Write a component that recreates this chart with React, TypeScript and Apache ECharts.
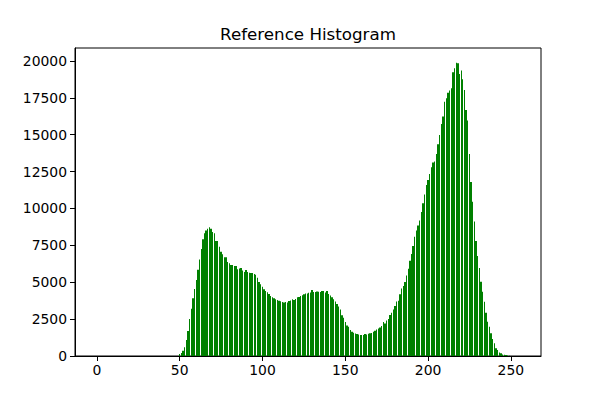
import React, { useEffect, useRef } from "react";
import * as echarts from "echarts";

const chartTitle = "Reference Histogram";
const xTicks = [0, 50, 100, 150, 200, 250];
const yTicks = [0, 2500, 5000, 7500, 10000, 12500, 15000, 17500, 20000];
const barHalfWidth = 0.4;

// counts for intensity bins 0..255
const counts = [
  0, 0, 0, 0, 0, 0, 0, 0, 0, 0,
  0, 0, 0, 0, 0, 0, 0, 0, 0, 0,
  0, 0, 0, 0, 0, 0, 0, 0, 0, 0,
  0, 0, 0, 0, 0, 0, 0, 0, 0, 0,
  0, 0, 0, 0, 0, 0, 0, 0, 0, 0,
  136, 200, 350, 600, 1085, 1700, 2510, 3200, 3910, 4550,
  5150, 5850, 6550, 7250, 7910, 8320, 8500, 8630, 8720, 8630,
  8410, 8320, 7800, 7800, 7410, 7070, 6890, 6690, 6690, 6370,
  6280, 6170, 6170, 6100, 6100, 5880, 5940, 5970, 5790, 5700,
  5830, 5700, 5650, 5630, 5630, 5560, 5510, 5300, 5020, 4860,
  4700, 4520, 4410, 4320, 4200, 4070, 3980, 3910, 3840, 3800,
  3750, 3710, 3660, 3620, 3660, 3620, 3730, 3760, 3840, 3800,
  3860, 3980, 4000, 4070, 4120, 4180, 4230, 4230, 4290, 4300,
  4470, 4340, 4340, 4380, 4360, 4340, 4410, 4410, 4300, 4410,
  4200, 4100, 3980, 3840, 3700, 3530, 3350, 3160, 2760, 2600,
  2300, 2060, 1990, 1760, 1650, 1580, 1530, 1490, 1450, 1420,
  1430, 1420, 1490, 1450, 1500, 1540, 1560, 1640, 1720, 1790,
  1860, 1940, 2030, 2300, 2210, 2400, 2510, 2780, 2940, 3150,
  3390, 3700, 3750, 4180, 4570, 4750, 5020, 5450, 5920, 6460,
  6920, 7460, 8090, 8500, 8850, 9180, 9760, 10350, 10940, 11590,
  11930, 12340, 12790, 13110, 13180, 13700, 14350, 14990, 15730, 16230,
  17240, 17470, 17850, 17990, 18150, 19230, 19500, 19885, 19840, 19120,
  19350, 18760, 18040, 16680, 15960, 13700, 11800, 10460, 9110, 7800,
  6780, 5970, 5040, 4360, 3680, 2940, 2330, 1990, 1540, 1150,
  860, 520, 410, 230, 180, 110, 90, 70, 40, 15,
  5, 0, 0, 0, 0, 0,
];

export default function App() {
  const ref = useRef<HTMLDivElement>(null);
  useEffect(() => {
    const chart = echarts.init(ref.current!, null, { renderer: "svg" });
    const ymax = Math.max(...counts) * 1.05;
    const black = { color: "#000", width: 1 };
    chart.setOption({
      animation: false,
      backgroundColor: "#ffffff",
      textStyle: { fontFamily: "DejaVu Sans" },
      grid: {
        left: 75,
        top: 48,
        width: 466,
        height: 308,
        show: true,
        borderColor: "#000",
        borderWidth: 1,
        backgroundColor: "transparent",
        containLabel: false,
      },
      xAxis: {
        type: "value",
        min: -13.2,
        max: 268.2,
        axisLine: { show: true, onZero: false, lineStyle: black },
        axisTick: { show: true, length: 5, customValues: xTicks, lineStyle: black },
        axisLabel: {
          customValues: xTicks,
          margin: 7,
          color: "#000",
          fontSize: 13.9,
          fontFamily: "DejaVu Sans",
          formatter: (v: number) => String(v),
        },
        splitLine: { show: false },
      },
      yAxis: {
        type: "value",
        min: 0,
        max: ymax,
        axisLine: { show: true, onZero: false, lineStyle: black },
        axisTick: { show: true, length: 5, customValues: yTicks, lineStyle: black },
        axisLabel: {
          customValues: yTicks,
          margin: 8,
          color: "#000",
          fontSize: 13.9,
          fontFamily: "DejaVu Sans",
          formatter: (v: number) => String(v),
        },
        splitLine: { show: false },
      },
      series: [
        {
          type: "custom",
          data: counts.map((c, i) => [i, c]),
          encode: { x: 0, y: 1 },
          clip: true,
          renderItem: (params: any, api: any) => {
            const v = api.value(0);
            const c = api.value(1);
            if (!c) return null;
            const p1 = api.coord([v - barHalfWidth, c]);
            const p2 = api.coord([v + barHalfWidth, 0]);
            const x1 = Math.round(p1[0]);
            let x2 = Math.round(p2[0]);
            if (x2 <= x1) x2 = x1 + 1;
            const yTop = p1[1];
            const yBot = p2[1];
            return {
              type: "rect",
              shape: { x: x1, y: yTop, width: x2 - x1, height: yBot - yTop },
              style: { fill: "#008000" },
            };
          },
        },
      ],
      graphic: [
        {
          type: "text",
          x: 308,
          y: 34,
          style: {
            text: chartTitle,
            fontSize: 16.7,
            fill: "#000",
            textAlign: "center",
            textVerticalAlign: "middle",
            fontFamily: "DejaVu Sans",
          },
        },
      ],
    });
    return () => chart.dispose();
  }, []);
  return (
    <div
      ref={ref}
      style={{ position: "absolute", left: 0, top: 0, width: 600, height: 400 }}
    />
  );
}
